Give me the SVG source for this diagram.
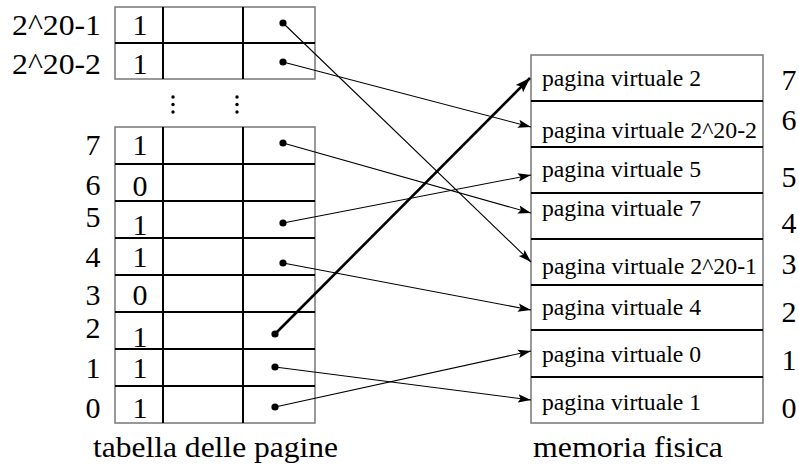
<svg xmlns="http://www.w3.org/2000/svg" width="799" height="468" viewBox="0 0 799 468" font-family="Liberation Serif, Times New Roman, serif">
<style>
text{font-family:"Liberation Serif","Times New Roman",serif;fill:#000}
.lbl{font-size:30px}
.mem{font-size:23px}
.cap{font-size:30px}
.outer{fill:#fff;stroke:#777;stroke-width:1.5}
.inner{stroke:#000;stroke-width:2}
.conn{stroke:#000;stroke-width:1.1;fill:none}
.thick{stroke:#000;stroke-width:2.6;fill:none}
.dot{fill:#000}
</style>
<defs>
<marker id="ah" markerUnits="userSpaceOnUse" markerWidth="14" markerHeight="10" refX="13" refY="5" orient="auto">
<path d="M0,0.8 L13,5 L0,9.2 L2.5,5 Z" fill="#000"/>
</marker>
<marker id="ahb" markerUnits="userSpaceOnUse" markerWidth="16" markerHeight="12" refX="15" refY="6" orient="auto">
<path d="M0,0.8 L15,6 L0,11.2 L3,6 Z" fill="#000"/>
</marker>
</defs>

<g id="page-table-top">
<rect class="outer" x="115" y="7" width="200" height="72"/>
<line class="inner" x1="163" y1="7" x2="163" y2="79"/>
<line class="inner" x1="243" y1="7" x2="243" y2="79"/>
<line class="inner" x1="115" y1="43" x2="315" y2="43"/>
<text class="lbl" x="101" y="35" text-anchor="end" textLength="89" lengthAdjust="spacingAndGlyphs">2^20-1</text>
<text class="lbl" x="101" y="74" text-anchor="end" textLength="89" lengthAdjust="spacingAndGlyphs">2^20-2</text>
<text class="lbl" x="140" y="35" text-anchor="middle">1</text>
<text class="lbl" x="140" y="74" text-anchor="middle">1</text>
<circle class="dot" cx="283" cy="23" r="3.6"/>
<circle class="dot" cx="283" cy="62" r="3.6"/>
</g>

<g id="ellipsis">
<circle class="dot" cx="173" cy="97" r="1.7"/>
<circle class="dot" cx="173" cy="104.5" r="1.7"/>
<circle class="dot" cx="173" cy="112" r="1.7"/>
<circle class="dot" cx="237" cy="97" r="1.7"/>
<circle class="dot" cx="237" cy="104.5" r="1.7"/>
<circle class="dot" cx="237" cy="112" r="1.7"/>
</g>

<g id="page-table">
<rect class="outer" x="115" y="127" width="200" height="296"/>
<line class="inner" x1="163" y1="127" x2="163" y2="423"/>
<line class="inner" x1="243" y1="127" x2="243" y2="423"/>
<line class="inner" x1="115" y1="164" x2="315" y2="164"/>
<line class="inner" x1="115" y1="201" x2="315" y2="201"/>
<line class="inner" x1="115" y1="238" x2="315" y2="238"/>
<line class="inner" x1="115" y1="275" x2="315" y2="275"/>
<line class="inner" x1="115" y1="312" x2="315" y2="312"/>
<line class="inner" x1="115" y1="349" x2="315" y2="349"/>
<line class="inner" x1="115" y1="386" x2="315" y2="386"/>
<text class="lbl" x="93" y="155" text-anchor="middle">7</text>
<text class="lbl" x="93" y="195" text-anchor="middle">6</text>
<text class="lbl" x="93" y="227" text-anchor="middle">5</text>
<text class="lbl" x="93" y="267" text-anchor="middle">4</text>
<text class="lbl" x="93" y="305" text-anchor="middle">3</text>
<text class="lbl" x="93" y="338" text-anchor="middle">2</text>
<text class="lbl" x="93" y="378" text-anchor="middle">1</text>
<text class="lbl" x="93" y="418" text-anchor="middle">0</text>
<text class="lbl" x="140" y="155" text-anchor="middle">1</text>
<text class="lbl" x="140" y="196" text-anchor="middle">0</text>
<text class="lbl" x="140" y="235" text-anchor="middle">1</text>
<text class="lbl" x="140" y="267" text-anchor="middle">1</text>
<text class="lbl" x="140" y="305" text-anchor="middle">0</text>
<text class="lbl" x="140" y="347" text-anchor="middle">1</text>
<text class="lbl" x="140" y="378" text-anchor="middle">1</text>
<text class="lbl" x="140" y="418" text-anchor="middle">1</text>
<circle class="dot" cx="283" cy="143" r="3.6"/>
<circle class="dot" cx="283" cy="223" r="3.6"/>
<circle class="dot" cx="283" cy="263" r="3.6"/>
<circle class="dot" cx="275" cy="334" r="3.6"/>
<circle class="dot" cx="275" cy="367" r="3.6"/>
<circle class="dot" cx="275" cy="407" r="3.6"/>
<text class="cap" x="93" y="457" textLength="245" lengthAdjust="spacingAndGlyphs">tabella delle pagine</text>
</g>

<g id="physical-memory">
<rect class="outer" x="531" y="55" width="232" height="368"/>
<line class="inner" x1="531" y1="101" x2="763" y2="101"/>
<line class="inner" x1="531" y1="147" x2="763" y2="147"/>
<line class="inner" x1="531" y1="193" x2="763" y2="193"/>
<line class="inner" x1="531" y1="239" x2="763" y2="239"/>
<line class="inner" x1="531" y1="285" x2="763" y2="285"/>
<line class="inner" x1="531" y1="330" x2="763" y2="330"/>
<line class="inner" x1="531" y1="377" x2="763" y2="377"/>
<text class="mem" x="542" y="86" textLength="159" lengthAdjust="spacingAndGlyphs">pagina virtuale 2</text>
<text class="mem" x="542" y="138" textLength="215" lengthAdjust="spacingAndGlyphs">pagina virtuale 2^20-2</text>
<text class="mem" x="542" y="177" textLength="159" lengthAdjust="spacingAndGlyphs">pagina virtuale 5</text>
<text class="mem" x="542" y="216" textLength="159" lengthAdjust="spacingAndGlyphs">pagina virtuale 7</text>
<text class="mem" x="542" y="274" textLength="215" lengthAdjust="spacingAndGlyphs">pagina virtuale 2^20-1</text>
<text class="mem" x="542" y="315" textLength="159" lengthAdjust="spacingAndGlyphs">pagina virtuale 4</text>
<text class="mem" x="542" y="362" textLength="159" lengthAdjust="spacingAndGlyphs">pagina virtuale 0</text>
<text class="mem" x="542" y="410" textLength="159" lengthAdjust="spacingAndGlyphs">pagina virtuale 1</text>
<text class="lbl" x="789" y="90" text-anchor="middle">7</text>
<text class="lbl" x="789" y="130" text-anchor="middle">6</text>
<text class="lbl" x="789" y="187" text-anchor="middle">5</text>
<text class="lbl" x="789" y="233" text-anchor="middle">4</text>
<text class="lbl" x="789" y="274" text-anchor="middle">3</text>
<text class="lbl" x="789" y="322" text-anchor="middle">2</text>
<text class="lbl" x="789" y="370" text-anchor="middle">1</text>
<text class="lbl" x="789" y="418" text-anchor="middle">0</text>
<text class="cap" x="533" y="457" textLength="190" lengthAdjust="spacingAndGlyphs">memoria fisica</text>
</g>

<g id="connectors">
<line class="conn" x1="283" y1="23" x2="531" y2="262" marker-end="url(#ah)"/>
<line class="conn" x1="283" y1="62" x2="531" y2="127" marker-end="url(#ah)"/>
<line class="conn" x1="283" y1="143" x2="531" y2="213" marker-end="url(#ah)"/>
<line class="conn" x1="283" y1="223" x2="531" y2="175" marker-end="url(#ah)"/>
<line class="conn" x1="283" y1="263" x2="531" y2="310" marker-end="url(#ah)"/>
<line class="thick" x1="275" y1="334" x2="530" y2="78" marker-end="url(#ahb)"/>
<line class="conn" x1="275" y1="367" x2="531" y2="400" marker-end="url(#ah)"/>
<line class="conn" x1="275" y1="407" x2="531" y2="351" marker-end="url(#ah)"/>
</g>
</svg>
